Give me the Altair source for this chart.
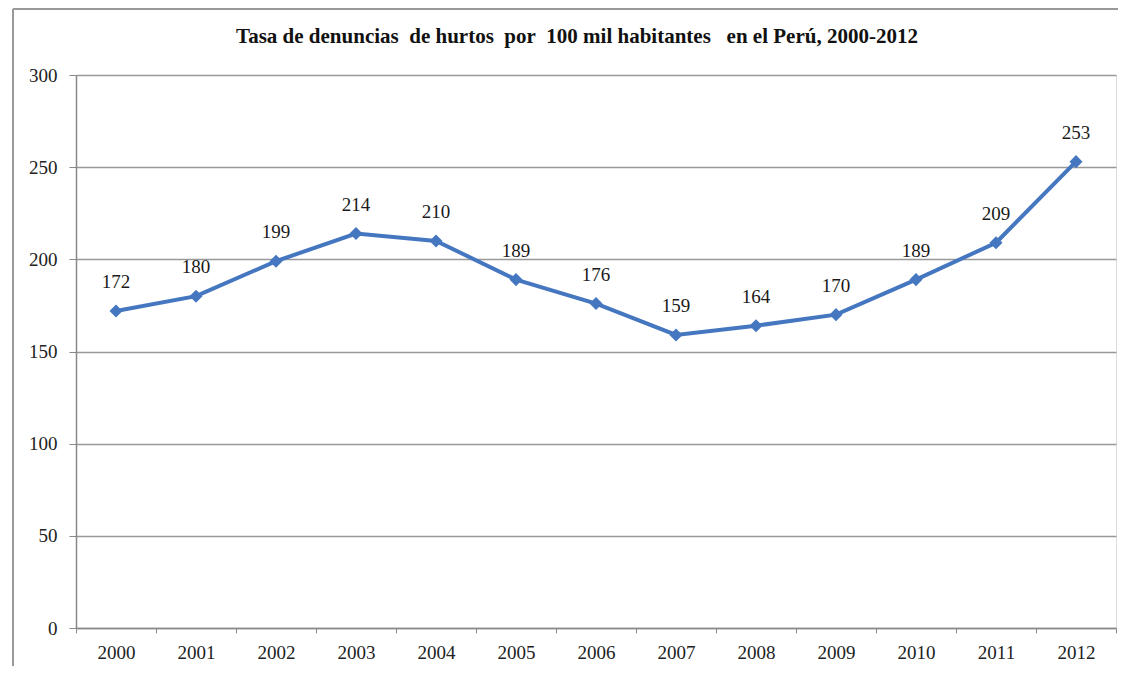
import altair as alt
import pandas as pd

years = ["2000", "2001", "2002", "2003", "2004", "2005", "2006",
         "2007", "2008", "2009", "2010", "2011", "2012"]
rates = [172, 180, 199, 214, 210, 189, 176, 159, 164, 170, 189, 209, 253]
title_text = "Tasa de denuncias\u00a0 de hurtos\u00a0 por\u00a0 100 mil habitantes\u00a0\u00a0 en el Perú, 2000-2012"

df = pd.DataFrame({"year": years, "rate": rates})

FONT = "Liberation Serif"
BLUE = "#4577c0"

x = alt.X("year:O", sort=years, title=None,
          scale=alt.Scale(paddingInner=0, paddingOuter=0),
          axis=alt.Axis(labelAngle=0, tickBand="extent", labelFont=FONT,
                        labelFontSize=19, labelColor="#222", labelPadding=10,
                        tickSize=5, tickColor="#888", domainColor="#888",
                        domainWidth=1.5, grid=False))
y = alt.Y("rate:Q", title=None,
          scale=alt.Scale(domain=[0, 300], nice=False),
          axis=alt.Axis(values=[0, 50, 100, 150, 200, 250, 300], labelFont=FONT,
                        labelFontSize=19, labelColor="#222", labelPadding=12,
                        tickSize=7, tickColor="#888", domainColor="#888",
                        domainWidth=1.5, gridColor="#999", gridWidth=1.5))

base = alt.Chart(df)

line = base.mark_line(color=BLUE, strokeWidth=4).encode(x=x, y=y)
pts = base.mark_point(shape="diamond", filled=True, color=BLUE, size=170,
                      opacity=1).encode(x=x, y=y)
labels = base.mark_text(font=FONT, fontSize=19, color="#1a1a1a", dy=-29).encode(
    x=x, y=y, text="rate:Q")

frame_left = alt.Chart(df).mark_rule(stroke="#999", strokeWidth=2).encode(
    x=alt.value(-63), y=alt.value(-66), y2=alt.value(700))
frame_top = alt.Chart(df).mark_rule(stroke="#999", strokeWidth=2).encode(
    x=alt.value(-63), x2=alt.value(1100), y=alt.value(-66))

title = alt.Chart(pd.DataFrame({"t": [title_text]})).mark_text(
    font=FONT, fontSize=21, fontWeight="bold", color="#111", align="center",
    baseline="middle").encode(x=alt.value(501), y=alt.value(-38), text="t:N")

chart = alt.layer(frame_left, frame_top, line, pts, labels, title).properties(
    width=1040, height=553,
    autosize=alt.AutoSizeParams(type="none"),
    padding={"left": 68, "top": 67, "right": 2, "bottom": 38},
).configure_view(stroke=None).configure(background="white")

chart.save("out.html", embed_options={"renderer": "svg", "actions": False})
